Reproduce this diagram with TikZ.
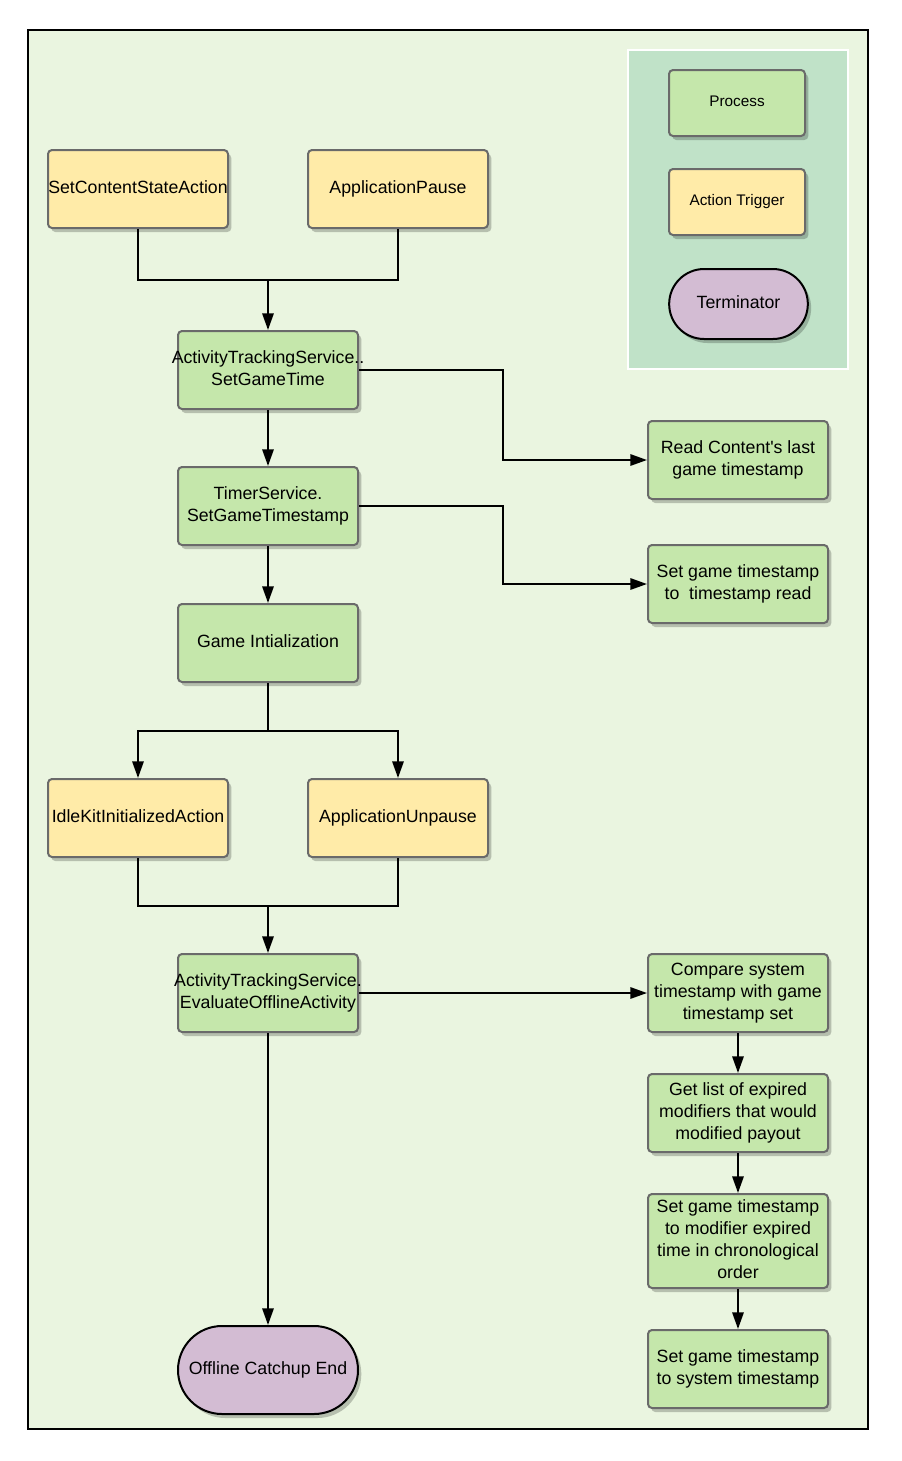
\documentclass[tikz,border=0pt]{standalone}
\usepackage{fontspec}
\setmainfont{Liberation Sans}
\usetikzlibrary{arrows.meta,shadows,shapes.misc}
\definecolor{bgouter}{HTML}{EAF5E0}
\definecolor{bglegend}{HTML}{C0E2C8}
\definecolor{procfill}{HTML}{C5E7AB}
\definecolor{actfill}{HTML}{FFEBA8}
\definecolor{termfill}{HTML}{D3BCD3}
\definecolor{boxline}{HTML}{6A6A6A}
\tikzset{
  base/.style={inner sep=0pt, align=center, font=\fontsize{13.3}{16.5}\selectfont,
    execute at end node={\rule[-3pt]{0pt}{0pt}},
    drop shadow={shadow xshift=2.5pt, shadow yshift=-3pt, opacity=0.22, fill=black}},
  procbox/.style={base, rectangle, rounded corners=3pt, draw=boxline, line width=1.5pt,
    fill=procfill, minimum width=135pt, minimum height=58.5pt},
  actbox/.style={base, rectangle, rounded corners=3pt, draw=boxline, line width=1.5pt,
    fill=actfill, minimum width=135pt, minimum height=58.5pt},
  termbox/.style={base, rounded rectangle, draw=black, line width=1.5pt,
    fill=termfill, minimum width=135pt, minimum height=66pt},
  conn/.style={line width=1.5pt, draw=black},
  arr/.style={conn, -{Triangle[length=12.5pt,width=8.5pt]}},
}
\begin{document}
\begin{tikzpicture}[x=0.75pt,y=-0.75pt]
\useasboundingbox (0,0) rectangle (901,1461);
\fill[white] (0,0) rectangle (901,1461);
% outer frame
\draw[fill=bgouter, line width=1.5pt] (28,30) rectangle (868,1429);
% legend
\draw[fill=bglegend, draw=white, line width=1.5pt] (628,50) rectangle (848,369);
\node[procbox, minimum width=102pt, minimum height=49.5pt, font=\fontsize{11.5}{14}\selectfont] (lproc) at (737,103) {Process};
\node[actbox, minimum width=102pt, minimum height=49.5pt, font=\fontsize{11.5}{14}\selectfont] (lact) at (737,202) {Action Trigger};
\node[termbox, minimum width=104pt, minimum height=52.5pt] (lterm) at (738.5,304) {Terminator};

% main column
\node[actbox] (setcontent) at (138,189) {SetContentStateAction};
\node[actbox] (apppause) at (398,189) {ApplicationPause};
\node[procbox] (setgametime) at (268,370) {\makebox[0pt]{ActivityTrackingService..}\\SetGameTime};
\node[procbox] (timer) at (268,506) {TimerService.\\SetGameTimestamp};
\node[procbox] (gameinit) at (268,643) {Game Intialization};
\node[actbox] (idlekit) at (138,818) {\makebox[0pt]{IdleKitInitializedAction}};
\node[actbox] (unpause) at (398,818) {ApplicationUnpause};
\node[procbox] (evaluate) at (268,993) {\makebox[0pt]{ActivityTrackingService.}\\\makebox[0pt]{EvaluateOfflineActivity}};
\node[termbox] (endnode) at (268,1370) {Offline Catchup End};

% right column
\node[procbox] (readcontent) at (738,460) {Read Content\textquotesingle s last\\game timestamp};
\node[procbox] (settsread) at (738,584) {Set game timestamp\\to\ \ timestamp read};
\node[procbox] (compare) at (738,993) {Compare system\\timestamp with game\\timestamp set};
\node[procbox] (getlist) at (738,1113) {Get list of expired\\modifiers that would\\modified payout};
\node[procbox, minimum height=70.5pt] (setmod) at (738,1241) {Set game timestamp\\to modifier expired\\time in chronological\\order};
\node[procbox] (setsys) at (738,1369) {Set game timestamp\\to system timestamp};

% junctions
\coordinate (j1) at (268,280);
\coordinate (j2) at (268,731);
\coordinate (j3) at (268,906);
\coordinate (c1) at (503,415);
\coordinate (c2) at (503,545);

% connectors
\draw[conn] (setcontent.south) |- (j1) -| (apppause.south);
\draw[arr] (j1) -- (setgametime.north);
\draw[arr] (setgametime.east) -| (c1) |- (readcontent.west);
\draw[arr] (setgametime.south) -- (timer.north);
\draw[arr] (timer.east) -| (c2) |- (settsread.west);
\draw[arr] (timer.south) -- (gameinit.north);
\draw[conn] (gameinit.south) -- (j2);
\draw[arr] (j2) -| (idlekit.north);
\draw[arr] (j2) -| (unpause.north);
\draw[conn] (idlekit.south) |- (j3) -| (unpause.south);
\draw[arr] (j3) -- (evaluate.north);
\draw[arr] (evaluate.east) -- (compare.west);
\draw[arr] (evaluate.south) -- (endnode.north);
\draw[arr] (compare.south) -- (getlist.north);
\draw[arr] (getlist.south) -- (setmod.north);
\draw[arr] (setmod.south) -- (setsys.north);
\end{tikzpicture}
\end{document}
